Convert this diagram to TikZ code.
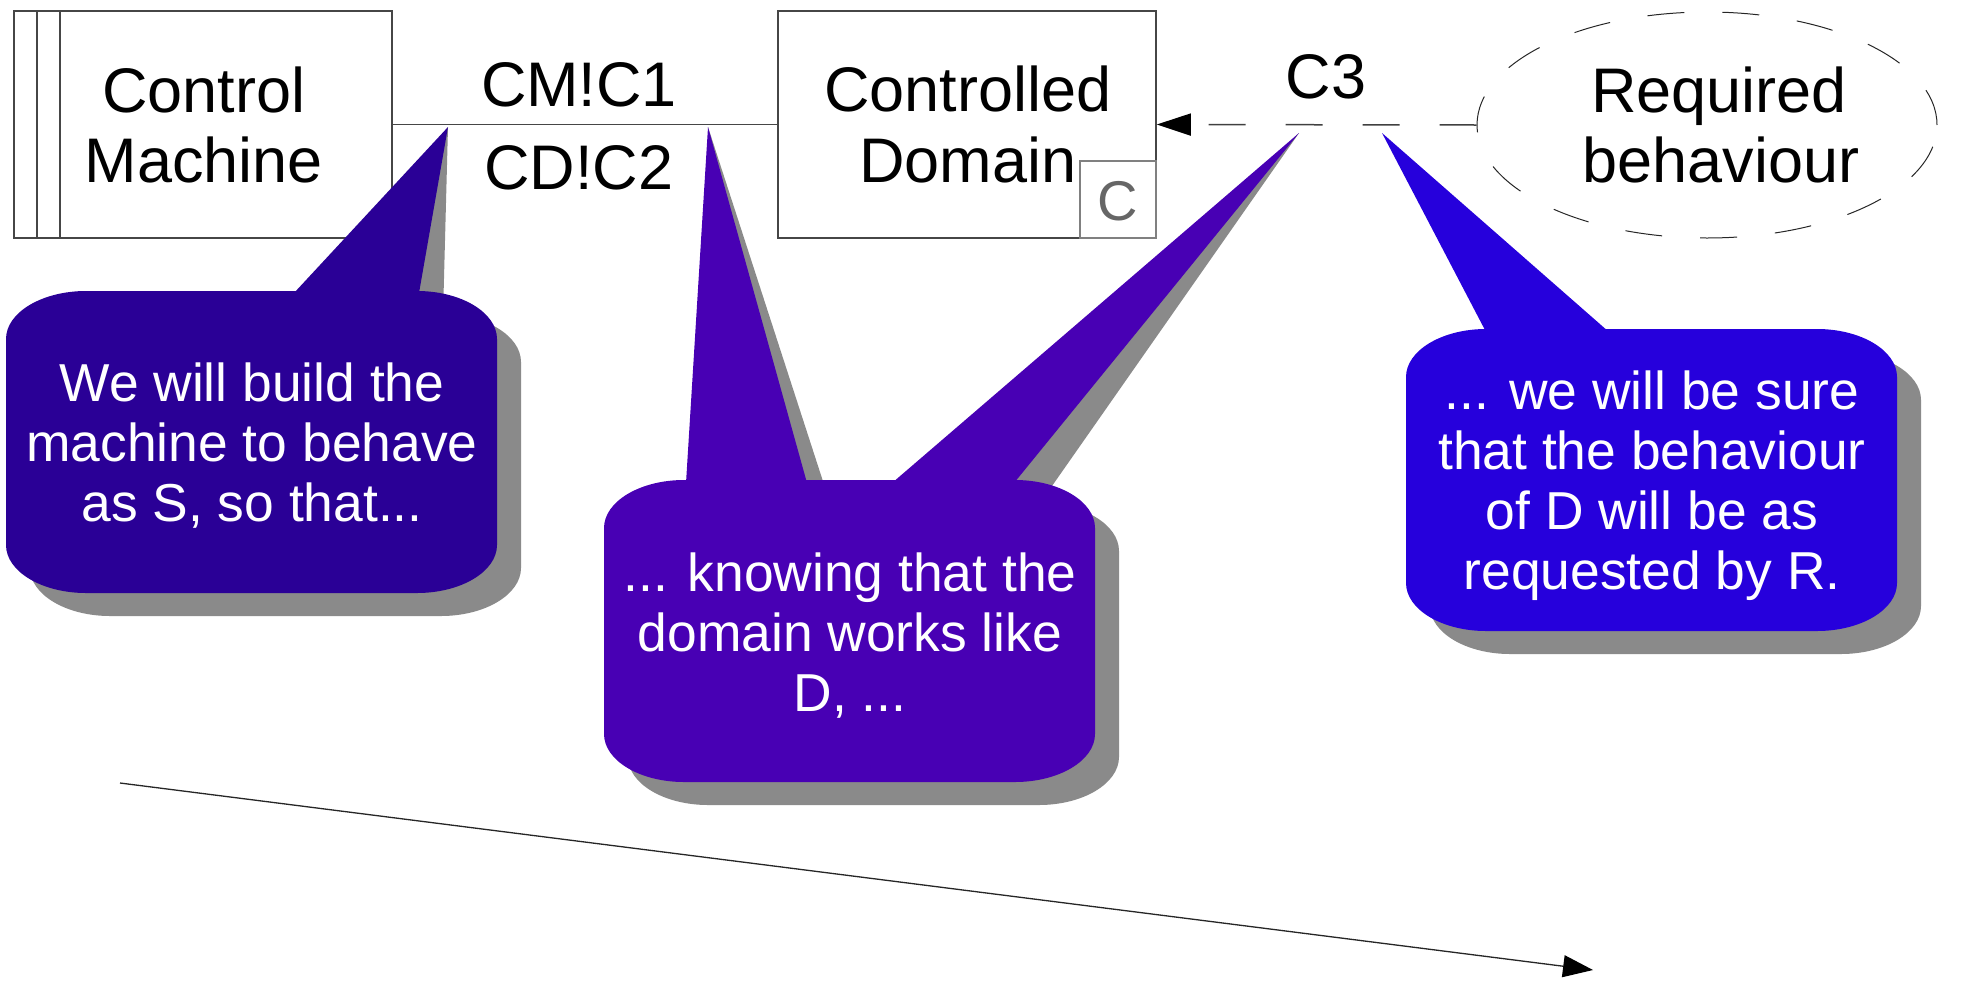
\documentclass[tikz,border=0pt]{standalone}
\usepackage{fontspec}
\setmainfont{Liberation Sans}
\usetikzlibrary{arrows.meta,shapes.geometric}
\definecolor{bubA}{RGB}{42,0,150}
\definecolor{bubB}{RGB}{72,0,180}
\definecolor{bubC}{RGB}{38,0,220}
\definecolor{shad}{RGB}{138,138,138}
\definecolor{edge}{RGB}{70,70,70}
\newcommand\bubshape[4]{({#1+80},#2) -- ({#3-80},#2) .. controls ({#3-36},#2) and (#3,{#2+21.5}) .. (#3,{#2+48}) -- (#3,{#4-48}) .. controls (#3,{#4-21.5}) and ({#3-36},#4) .. ({#3-80},#4) -- ({#1+80},#4) .. controls ({#1+36},#4) and (#1,{#4-21.5}) .. (#1,{#4-48}) -- (#1,{#2+48}) .. controls (#1,{#2+21.5}) and ({#1+36},#2) .. cycle}
\tikzset{
  boxlbl/.style={anchor=base, inner sep=0pt, font=\fontsize{31.5}{35}\selectfont},
  bubtxt/.style={align=center, text=white, inner sep=0pt, font=\fontsize{26.7}{30}\selectfont},
  domainbox/.style={draw=edge, line width=0.75pt, minimum width=189pt, minimum height=113.5pt, inner sep=0pt},
  shadowed/.style={fill=shad, shift={(24,23)}}
}
\begin{document}
\begin{tikzpicture}[x=0.5pt,y=-0.5pt]
\useasboundingbox (0,0) rectangle (1962,980);
% required behaviour ellipse
\node[ellipse, draw=black!85, line width=0.5pt, dash pattern=on 18.5pt off 19pt, minimum width=230pt, minimum height=113pt] (req) at (1707,125) {};
\node[boxlbl] at (1719,112) {Required};
\node[boxlbl] at (1721,182) {behaviour};
% boxes
\node[domainbox] (cm) at (203,124.5) {};
\draw[edge, line width=0.75pt] (37,11) -- (37,238) (60,11) -- (60,238);
\node[boxlbl] at (204,112) {Control};
\node[boxlbl] at (204,182) {Machine};
\node[domainbox] (cd) at (967,124.5) {};
\node[boxlbl] at (968,111) {Controlled};
\node[boxlbl] at (968,182) {Domain};
\node[draw=gray, line width=0.75pt, minimum width=38pt, minimum height=38.5pt, inner sep=0pt, anchor=south east] (cbox) at (cd.south east) {};
\node[anchor=base, inner sep=0pt, text=black!60, font=\fontsize{28}{32}\selectfont] at (1118,220) {C};
% connectors
\draw[edge, line width=0.75pt] (cm.east) -- (cd.west);
\node[boxlbl] at (579,106) {CM!C1};
\node[boxlbl] at (579,189) {CD!C2};
\draw[black!75, line width=0.75pt, dash pattern=on 18.5pt off 20pt, -{Triangle[length=17pt,width=11pt,color=black,fill=black]}] (req.west) -- (cd.east);
\node[boxlbl] at (1326,98) {C3};
% tail tips
\coordinate (tA) at (448,127);
\coordinate (tB1) at (708,127);
\coordinate (tB2) at (1299,133);
\coordinate (tC) at (1382,133);
% shadows
\fill[shadowed] \bubshape{6}{291}{497}{593};
\fill[shadowed] (294,293) -- (tA) -- (419,293) -- cycle;
\fill[shadowed] \bubshape{604}{480}{1095}{782};
\fill[shadowed] (686,483) -- (tB1) -- (807,483) -- cycle;
\fill[shadowed] (892,483) -- (tB2) -- (1014,483) -- cycle;
\fill[shadowed] \bubshape{1406}{329}{1897}{631};
% bubbles
\fill[bubA] \bubshape{6}{291}{497}{593};
\fill[bubA] (294,293) -- (tA) -- (419,293) -- cycle;
\node[bubtxt] (sA) at (252,446) {We will build the\\machine to behave\\as S, so that...};
\fill[bubB] \bubshape{604}{480}{1095}{782};
\fill[bubB] (686,483) -- (tB1) -- (807,483) -- cycle;
\fill[bubB] (892,483) -- (tB2) -- (1014,483) -- cycle;
\node[bubtxt] (sB) at (850,636) {... knowing that the\\domain works like\\D, ...};
\fill[bubC] \bubshape{1406}{329}{1897}{631};
\fill[bubC] (1486,332) -- (tC) -- (1609,332) -- cycle;
\node[bubtxt] (sC) at (1652,486) {... we will be sure\\that the behaviour\\of D will be as\\requested by R.};
% bottom arrow
\coordinate (a0) at (120,783);
\coordinate (a1) at (1593,970);
\draw[black!85, line width=0.65pt, -{Triangle[length=15pt,width=11pt,color=black,fill=black]}] (a0) -- (a1);
\end{tikzpicture}
\end{document}
